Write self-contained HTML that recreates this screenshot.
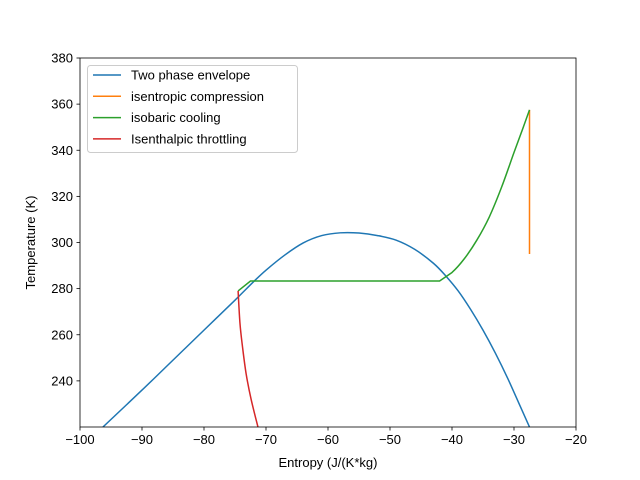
<!DOCTYPE html>
<html><head><meta charset="utf-8"><style>
body{margin:0;background:#fff;}
svg{display:block;font-family:"Liberation Sans","DejaVu Sans",sans-serif;}
</style></head><body>
<svg id="chart" width="640" height="480">
<rect x="0" y="0" width="640" height="480" fill="#fff"/>
<g id="plot"></g>
</svg>
<script>
const envX=[-96.3,-90,-85,-80,-75,-72,-70,-67,-64,-61,-58,-55,-52,-49,-46,-43,-41,-39,-37,-35,-33,-31,-29,-27.5];
const envT=[220,236,249,262,275,283,288,294.5,299.8,303,304.2,304.1,303,301,297,291,285.5,279,271,262,252,241,229,220];
const compX=[-27.5,-27.5];
const compT=[295,357.5];
const coolX=[-74.5,-72.5,-60,-50,-42,-40,-38,-36,-34,-32,-30,-28.5,-27.5];
const coolT=[279,283.3,283.3,283.3,283.3,287,293,301,311,324,339,350,357.5];
const thrX=[-74.5,-74.2,-73.8,-73.2,-72.4,-71.3];
const thrT=[279,265,255,243,232,220];
const xTicks=[-100,-90,-80,-70,-60,-50,-40,-30,-20];
const yTicks=[240,260,280,300,320,340,360,380];
const legendLabels=["Two phase envelope","isentropic compression","isobaric cooling","Isenthalpic throttling"];
const colors=["#1f77b4","#ff7f0e","#2ca02c","#d62728"];

const L=80,R=576,T=58,B=427,x0=-100,x1=-20,y0=220,y1=380;
const sx=v=>L+(v-x0)/(x1-x0)*(R-L);
const sy=v=>B-(v-y0)/(y1-y0)*(B-T);
const NS="http://www.w3.org/2000/svg";
const g=document.getElementById('plot');
function mk(t,a,p){const e=document.createElementNS(NS,t);for(const k in a)e.setAttribute(k,a[k]);(p||g).appendChild(e);return e;}
function smooth(pts,sharp){
  let d='M'+pts[0][0]+','+pts[0][1];
  for(let i=0;i<pts.length-1;i++){
    const p0=pts[Math.max(i-1,0)],p1=pts[i],p2=pts[i+1],p3=pts[Math.min(i+2,pts.length-1)];
    if(sharp&&(sharp.includes(i)||sharp.includes(i+1))){d+=' L'+p2[0]+','+p2[1];continue;}
    const c1=[p1[0]+(p2[0]-p0[0])/6,p1[1]+(p2[1]-p0[1])/6];
    const c2=[p2[0]-(p3[0]-p1[0])/6,p2[1]-(p3[1]-p1[1])/6];
    d+=' C'+c1+' '+c2+' '+p2;
  }
  return d;
}
const clip=mk('clipPath',{id:'c'});mk('rect',{x:L,y:T,width:R-L,height:B-T},clip);
const series=[[envX,envT,'envelope-line',null],[compX,compT,'compression-line',null],[coolX,coolT,'cooling-line',[1,4]],[thrX,thrT,'throttling-line',null]];
series.forEach((s,i)=>{
  const pts=s[0].map((x,j)=>[sx(x),sy(s[1][j])]);
  const p=mk('path',{d:smooth(pts,s[3]),fill:'none',stroke:colors[i],'stroke-width':1.5,'clip-path':'url(#c)'});
  
  
});
const frame=mk('rect',{x:L,y:T,width:R-L,height:B-T,fill:'none',stroke:'#000','stroke-width':0.8});


xTicks.forEach(v=>{
  mk('line',{x1:sx(v),x2:sx(v),y1:B,y2:B+3.5,stroke:'#000','stroke-width':0.8});
  const t=mk('text',{x:sx(v),y:B+17,'font-size':13,'text-anchor':'middle'});
  t.textContent=(v<0?'\u2212'+(-v):v);
  
  
});
yTicks.forEach(v=>{
  mk('line',{x1:L-3.5,x2:L,y1:sy(v),y2:sy(v),stroke:'#000','stroke-width':0.8});
  const t=mk('text',{x:L-7,y:sy(v)+4.5,'font-size':13,'text-anchor':'end'});
  t.textContent=v;
  
  
});
const xt=mk('text',{x:(L+R)/2,y:467,'font-size':13,'text-anchor':'middle'});
xt.textContent='Entropy (J/(K*kg)';


const yt=mk('text',{x:0,y:0,'font-size':13,'text-anchor':'middle',transform:'translate(35,'+((T+B)/2)+') rotate(-90)'});
yt.textContent='Temperature (K)';


const lg=mk('g',{});


mk('rect',{x:87.5,y:65.5,width:210,height:87,rx:3,fill:'#fff','fill-opacity':0.8,stroke:'#ccc'},lg);
legendLabels.forEach((s,i)=>{
  const y=75+i*21.3;
  mk('line',{x1:93,x2:121,y1:y,y2:y,stroke:colors[i],'stroke-width':1.5},lg);
  const t=mk('text',{x:131,y:y+4.5,'font-size':13},lg);
  t.textContent=s;
  
  
});
</script>
</body></html>
